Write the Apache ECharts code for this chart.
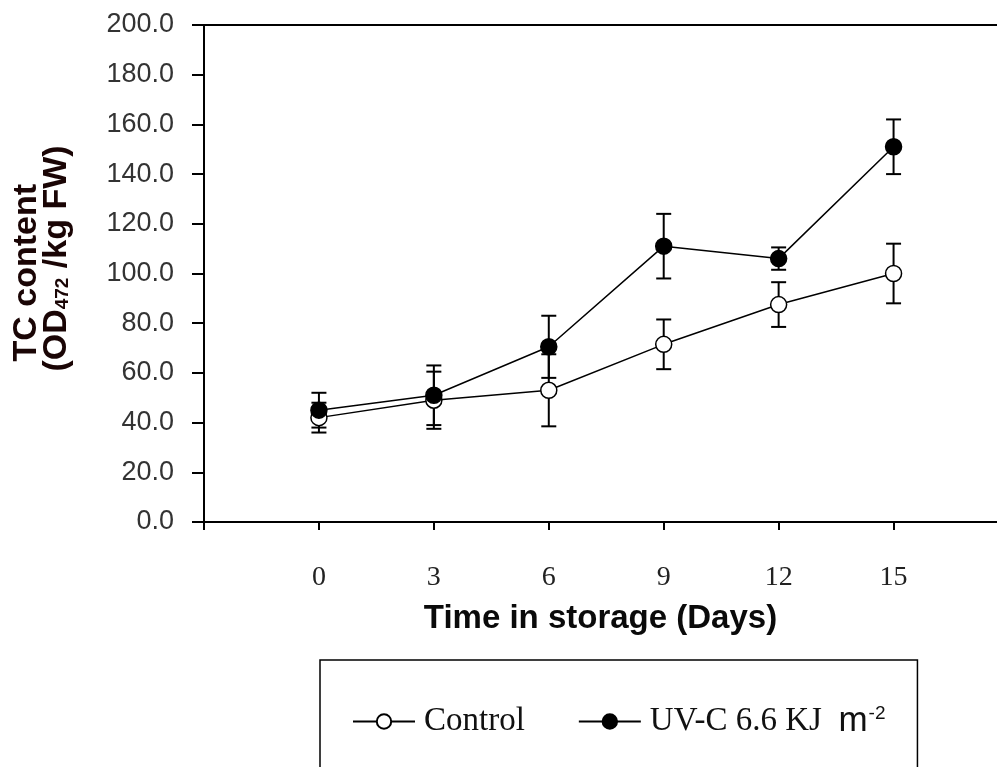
<!DOCTYPE html>
<html>
<head>
<meta charset="utf-8">
<script src="https://cdn.jsdelivr.net/npm/echarts@6/dist/echarts.min.js"></script>
<style>
html, body { margin: 0; padding: 0; background: #fff; }
#main { width: 997px; height: 767px; }
</style>
</head>
<body>
<div id="main"></div>
<script>
// storage days
const days = [0, 3, 6, 9, 12, 15];
// TC content, control
const controlMean = [42, 49, 53, 71.5, 87.5, 100];
const controlErr = [6, 11.5, 14.5, 10, 9, 12];
// TC content, UV-C 6.6 KJ m-2
const uvMean = [45, 51, 70.5, 111, 106, 151];
const uvErr = [7, 12, 12.5, 13, 4.5, 11];
// axis ticks
const yTicks = [0, 20, 40, 60, 80, 100, 120, 140, 160, 180, 200];
const xTicks = [0, 3, 6, 9, 12, 15];

function pairs(m) {
    return days.map((d, i) => [d, m[i]]);
}
function errRows(m, e) {
    return days.map((d, i) => [d, m[i] - e[i], m[i] + e[i]]);
}

// error bar drawn through the axis scales
function drawErr(params, api) {
    let lo = api.coord([api.value(0), api.value(1)]);
    let hi = api.coord([api.value(0), api.value(2)]);
    let w = 7.5;
    let st = { stroke: '#000', lineWidth: 2 };
    return {
        type: 'group',
        children: [
            { type: 'line', shape: { x1: lo[0], y1: lo[1], x2: hi[0], y2: hi[1] }, style: st },
            { type: 'line', shape: { x1: lo[0] - w, y1: lo[1], x2: lo[0] + w, y2: lo[1] }, style: st },
            { type: 'line', shape: { x1: hi[0] - w, y1: hi[1], x2: hi[0] + w, y2: hi[1] }, style: st },
        ],
    };
}

let chart = echarts.init(document.getElementById('main'));
let option = {
    animation: false,
    grid: { left: 204, right: 0, top: 25, bottom: 245 },
    legend: {
        data: ['Control', 'UV-C'],
        left: 320,
        top: 660,
        orient: 'horizontal',
        itemWidth: 62,
        itemHeight: 18,
        itemGap: 53,
        padding: [44, 32, 80, 32],
        borderColor: '#000',
        borderWidth: 1.5,
        formatter: function (name) {
            return name === 'UV-C' ? 'UV-C 6.6 KJ  {m|m}{sup|-2}' : name;
        },
        textStyle: {
            fontFamily: 'Liberation Serif',
            fontSize: 33,
            color: '#111',
            padding: [0, 0, 0, 4],
            rich: {
                m: { fontFamily: 'Liberation Sans', fontSize: 35, color: '#111' },
                sup: { fontFamily: 'Liberation Sans', fontSize: 19, color: '#111', verticalAlign: 'top', padding: [0, 0, 14, 1] },
            },
        },
    },
    xAxis: [
        {
            type: 'value',
            min: -3,
            max: 17.7,
            interval: 3,
            name: 'Time in storage (Days)',
            nameLocation: 'middle',
            nameGap: 80,
            nameTextStyle: { fontFamily: 'Liberation Sans', fontWeight: 'bold', fontSize: 33, color: '#0a0a0a' },
            axisLine: { show: true, onZero: false, lineStyle: { color: '#000', width: 2 } },
            axisTick: { show: true, length: 8, lineStyle: { color: '#000', width: 2 } },
            axisLabel: {
                margin: 42,
                fontFamily: 'Liberation Serif',
                fontSize: 28,
                color: '#222',
                showMaxLabel: false,
                formatter: v => (xTicks.indexOf(v) >= 0 ? String(v) : ''),
            },
            splitLine: { show: false },
        },
        {
            // top frame line
            type: 'value',
            position: 'top',
            min: -3,
            max: 17.7,
            axisLine: { show: true, onZero: false, lineStyle: { color: '#000', width: 2 } },
            axisTick: { show: false },
            axisLabel: { show: false },
            splitLine: { show: false },
        },
    ],
    yAxis: {
        type: 'value',
        min: yTicks[0],
        max: yTicks[yTicks.length - 1],
        interval: 20,
        name: 'TC content   \n(OD{sub|472} /kg FW)',
        nameLocation: 'middle',
        nameGap: 132,
        nameRotate: 90,
        nameTextStyle: {
            fontFamily: 'Liberation Sans',
            fontWeight: 'bold',
            fontSize: 34,
            lineHeight: 30,
            color: '#1a0505',
            padding: [0, 0, 0, 30],
            rich: {
                sub: { fontFamily: 'Liberation Sans', fontWeight: 'bold', fontSize: 19, color: '#1a0505', verticalAlign: 'bottom', padding: [8, 0, 0, 0] },
            },
        },
        axisLine: { show: true, onZero: false, lineStyle: { color: '#000', width: 2 } },
        axisTick: { show: true, length: 12, lineStyle: { color: '#000', width: 2 } },
        axisLabel: {
            margin: 30,
            fontFamily: 'Liberation Sans',
            fontSize: 27,
            color: '#333',
            formatter: v => v.toFixed(1),
        },
        splitLine: { show: false },
    },
    series: [
        {
            type: 'custom',
            name: 'errControl',
            renderItem: drawErr,
            data: errRows(controlMean, controlErr),
            z: 1,
        },
        {
            type: 'custom',
            name: 'errUV',
            renderItem: drawErr,
            data: errRows(uvMean, uvErr),
            z: 1,
        },
        {
            type: 'line',
            name: 'Control',
            data: pairs(controlMean),
            symbol: 'circle',
            symbolSize: 16,
            lineStyle: { color: '#000', width: 1.5 },
            itemStyle: { color: '#fff', borderColor: '#000', borderWidth: 1.5 },
            z: 3,
        },
        {
            type: 'line',
            name: 'UV-C',
            data: pairs(uvMean),
            symbol: 'circle',
            symbolSize: 16,
            lineStyle: { color: '#000', width: 1.5 },
            itemStyle: { color: '#000', borderColor: '#000', borderWidth: 1.5 },
            z: 4,
        },
    ],
};
chart.setOption(option);
</script>
</body>
</html>
